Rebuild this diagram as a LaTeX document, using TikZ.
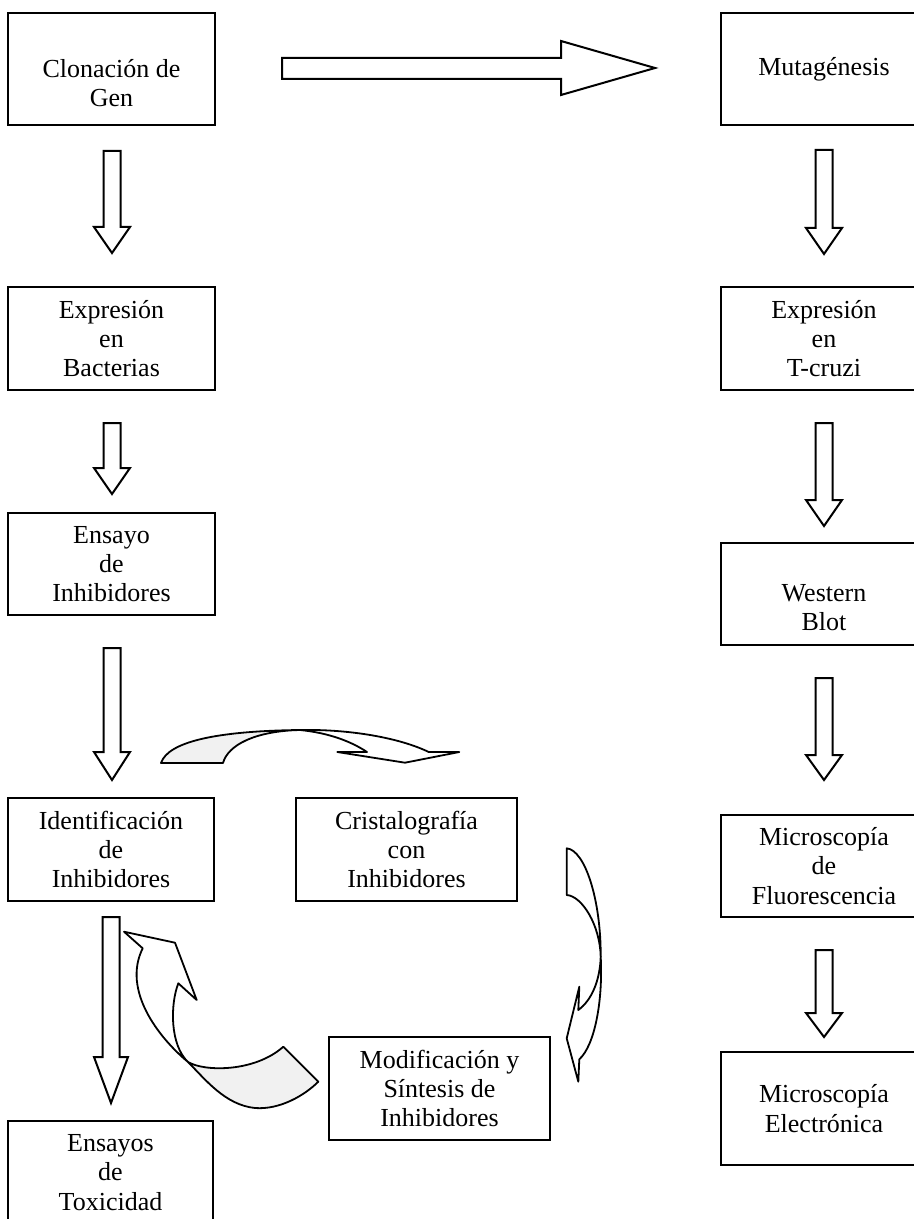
\documentclass[tikz,border=0pt]{standalone}
\usepackage{fontspec}
\setmainfont{Liberation Serif}
\usetikzlibrary{calc}
\tikzset{
  box/.style={draw, line width=1pt, inner sep=0pt, align=center,
    font=\fontsize{13}{14.6}\selectfont},
  blk/.style={draw, line width=1pt, fill=white, line join=miter},
  ribbon/.style={draw, line width=0.9pt, fill=white, line join=round},
  shadedrib/.style={draw, line width=0.9pt, fill=gray!11, line join=round},
}
\newcommand{\vblk}[5]{\draw[blk] (#1-8.5,#2) -- (#1+8.5,#2) -- (#1+8.5,#3) -- (#1+#5,#3) -- (#1,#4) -- (#1-#5,#3) -- (#1-8.5,#3) -- cycle;}
\begin{document}
\begin{tikzpicture}[x=0.5pt,y=-0.5pt]
\useasboundingbox (0,0) rectangle (914,1219);
\clip (0,0) rectangle (914,1219);

% left column
\node[box, minimum width=103.5pt, minimum height=56pt] (clon) at (111.5,69) {\rule{0pt}{23.5pt}Clonación de\\Gen};
\node[box, minimum width=103.5pt, minimum height=51.5pt] (bact) at (111.5,338.5) {Expresión\\en\\Bacterias};
\node[box, minimum width=103.5pt, minimum height=51pt] (ensa) at (111.5,564) {Ensayo\\de\\Inhibidores};
\node[box, minimum width=103pt, minimum height=51.5pt] (iden) at (111,849.5) {Identificación\\de\\Inhibidores};
\node[box, minimum width=102.5pt, minimum height=51.5pt] (toxi) at (110.5,1172.5) {Ensayos\\de\\Toxicidad};

% middle
\node[box, minimum width=110.5pt, minimum height=51.5pt] (cris) at (406.5,849.5) {Cristalografía\\con\\Inhibidores};
\node[box, minimum width=110.5pt, minimum height=51.5pt] (modi) at (439.5,1088.5) {Modificación y\\Síntesis de\\Inhibidores};

% right column
\node[box, minimum width=103pt, minimum height=56pt] (muta) at (824,69) {Mutagénesis};
\node[box, minimum width=103pt, minimum height=51.5pt] (tcru) at (824,338.5) {Expresión\\en\\T-cruzi};
\node[box, minimum width=103pt, minimum height=51pt] (west) at (824,594) {\rule{0pt}{22.5pt}Western\\Blot};
\node[box, minimum width=103pt, minimum height=51pt] (fluo) at (824,866) {Microscopía\\de\\Fluorescencia};
\node[box, minimum width=103pt, minimum height=56.5pt] (elec) at (824,1108.5) {Microscopía\\Electrónica};

% straight block arrows
\draw[blk] (282,58) -- (561,58) -- (561,41) -- (655,68) -- (561,95) -- (561,79) -- (282,79) -- cycle;
\vblk{112}{151}{227}{253}{18}
\vblk{112}{423}{468}{494}{18}
\vblk{112}{648}{752}{780}{18}
\vblk{111}{917}{1057}{1103}{17}
\vblk{824}{150}{228}{254}{18}
\vblk{824}{423}{500}{526}{18}
\vblk{824}{678}{755}{780}{18}
\vblk{824}{950}{1013}{1037}{18}

% curved arrow: Identificacion -> Cristalografia
\draw[shadedrib] (161,763) .. controls (168,742) and (215,731) .. (300,730)
  .. controls (255,731) and (228,745) .. (223,763) -- cycle;
\draw[ribbon] (300,730) .. controls (350,729) and (400,738) .. (428.7,752)
  -- (459.3,752) -- (405,762.7) -- (337.3,752) -- (367,752)
  .. controls (352,742) and (330,733) .. (300,730) -- cycle;

% curved arrow: Cristalografia -> Modificacion
\draw[ribbon] (566.7,848.3) .. controls (585,850) and (601,900) .. (600.7,956.7)
  .. controls (600,925) and (582,896) .. (566.7,895) -- cycle;
\draw[ribbon] (600.7,956.7) .. controls (600,980) and (592,1000) .. (578.3,1010)
  -- (579.3,986.7) -- (566.7,1038.3) -- (578.3,1081.7) -- (579.3,1059.3)
  .. controls (595,1045) and (603,1000) .. (600.7,956.7) -- cycle;

% curved arrow: Modificacion -> Identificacion
\draw[ribbon] (142.7,948.3) -- (124,931.7) -- (175,942.7) -- (196.7,1000) -- (178.3,983.3)
  .. controls (170,1005) and (170,1045) .. (188,1062)
  .. controls (158,1037) and (122,990) .. (142.7,948.3) -- cycle;
\draw[shadedrib] (188,1062) .. controls (205,1072) and (255,1072) .. (283.3,1046.7)
  -- (318.3,1081.7) .. controls (305,1095) and (280,1110) .. (255,1108)
  .. controls (225,1105) and (205,1079) .. (188,1062) -- cycle;
\end{tikzpicture}
\end{document}
